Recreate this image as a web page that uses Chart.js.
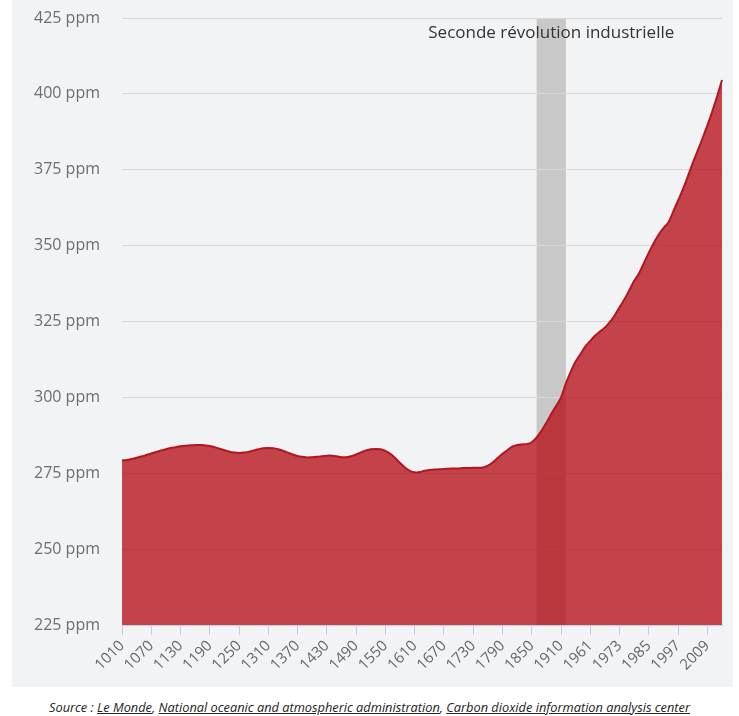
<!DOCTYPE html>
<html>
<head>
<meta charset="utf-8">
<script src="https://cdn.jsdelivr.net/npm/chart.js@4.4.0/dist/chart.umd.min.js"></script>
<style>
  html, body { margin: 0; padding: 0; background: #fff; }
  body { width: 739px; height: 716px; position: relative; overflow: hidden; font-family: "Open Sans", sans-serif; }
  #panel { position: absolute; left: 12px; top: 0; width: 721px; height: 687px; background: #f1f3f5; }
  #source {
    position: absolute; left: 0; top: 688px; width: 739px; height: 28px;
    text-align: center; font-style: italic; font-size: 12.8px; line-height: 38px; color: #222;
  }
  #source u { text-decoration: underline; }
</style>
</head>
<body>
<div id="panel"><canvas id="co2Chart" width="721" height="687"></canvas></div>
<div id="source">Source : <u>Le Monde</u>, <u>National oceanic and atmospheric administration</u>, <u>Carbon dioxide information analysis center</u></div>

<script>
/* ================= DATA ================= */

const years = [
  1010, 1020, 1030, 1040, 1050, 1060, 1070, 1080, 1090, 1100,
  1110, 1120, 1130, 1140, 1150, 1160, 1170, 1180, 1190, 1200,
  1210, 1220, 1230, 1240, 1250, 1260, 1270, 1280, 1290, 1300,
  1310, 1320, 1330, 1340, 1350, 1360, 1370, 1380, 1390, 1400,
  1410, 1420, 1430, 1440, 1450, 1460, 1470, 1480, 1490, 1500,
  1510, 1520, 1530, 1540, 1550, 1560, 1570, 1580, 1590, 1600,
  1610, 1620, 1630, 1640, 1650, 1660, 1670, 1680, 1690, 1700,
  1710, 1720, 1730, 1740, 1750, 1760, 1770, 1780, 1790, 1800,
  1810, 1820, 1830, 1840, 1850, 1860, 1870, 1880, 1890, 1900,
  1910, 1920, 1930, 1940, 1950, 1959, 1961, 1963, 1965, 1967,
  1969, 1971, 1973, 1975, 1977, 1979, 1981, 1983, 1985, 1987,
  1989, 1991, 1993, 1995, 1997, 1999, 2001, 2003, 2005, 2007,
  2009, 2011, 2013, 2015
];

const co2 = [
  279.2, 279.4, 279.7, 280.1, 280.5, 281.0, 281.5, 282.0, 282.5, 282.9,
  283.3, 283.6, 283.9, 284.1, 284.2, 284.3, 284.3, 284.2, 284.0, 283.6,
  283.1, 282.6, 282.1, 281.8, 281.7, 281.8, 282.1, 282.5, 282.9, 283.2,
  283.3, 283.2, 282.9, 282.4, 281.8, 281.2, 280.7, 280.4, 280.2, 280.3,
  280.4, 280.6, 280.8, 280.8, 280.6, 280.3, 280.3, 280.6, 281.2, 281.9,
  282.5, 282.9, 283.0, 282.9, 282.4, 281.4, 280.0, 278.4, 276.9, 275.8,
  275.3, 275.4, 275.8, 276.1, 276.2, 276.3, 276.4, 276.5, 276.6, 276.6,
  276.7, 276.7, 276.8, 276.8, 276.9, 277.5, 278.6, 280.0, 281.4, 282.6,
  283.8, 284.3, 284.5, 284.6, 285.2, 286.8, 289.0, 291.6, 294.5, 297.2,
  300.0, 304.6, 308.5, 311.8, 314.3, 316.8, 318.6, 320.4, 321.7, 323.0,
  324.8, 327.0, 329.7, 332.3, 335.3, 338.4, 340.9, 344.3, 347.7, 350.8,
  353.6, 355.8, 357.6, 361.2, 364.9, 368.6, 372.8, 377.2, 381.2, 385.3,
  389.6, 394.2, 399.2, 404.6
];

const tickYears = [
  1010, 1070, 1130, 1190, 1250, 1310, 1370, 1430, 1490, 1550, 1610,
  1670, 1730, 1790, 1850, 1910, 1961, 1973, 1985, 1997, 2009
];

const yTicks = [225, 250, 275, 300, 325, 350, 375, 400, 425];

const band = { from: 1860, to: 1920, label: "Seconde révolution industrielle" };

/* ================= PLOT BAND PLUGIN ================= */

const plotBand = {
  id: "plotBand",
  beforeDraw(chart) {
    const { ctx, chartArea, scales } = chart;
    const x1 = scales.x.getPixelForValue(years.indexOf(band.from));
    const x2 = scales.x.getPixelForValue(years.indexOf(band.to));
    ctx.save();
    ctx.fillStyle = "#c8c8c8";
    ctx.fillRect(x1, chartArea.top, x2 - x1, chartArea.bottom - chartArea.top);
    ctx.restore();
  },
  afterDraw(chart) {
    const { ctx, chartArea, scales } = chart;
    const x1 = scales.x.getPixelForValue(years.indexOf(band.from));
    const x2 = scales.x.getPixelForValue(years.indexOf(band.to));
    ctx.save();
    ctx.fillStyle = "#333";
    ctx.font = '17px "Open Sans"';
    ctx.textAlign = "center";
    ctx.textBaseline = "alphabetic";
    ctx.fillText(band.label, (x1 + x2) / 2, chartArea.top + 20);
    ctx.restore();
  }
};

/* ================= CHART ================= */

const isTick = i => tickYears.includes(years[i]);

new Chart(document.getElementById("co2Chart"), {
  type: "line",
  data: {
    labels: years,
    datasets: [{
      data: co2,
      fill: "start",
      backgroundColor: "rgba(180,4,12,0.74)",
      borderColor: "#b1171f",
      borderWidth: 2,
      pointRadius: 0,
      tension: 0.4
    }]
  },
  plugins: [plotBand],
  options: {
    responsive: false,
    animation: false,
    layout: { padding: { top: 18, right: 11, left: 0, bottom: 0 } },
    plugins: {
      legend: { display: false },
      tooltip: { enabled: false }
    },
    scales: {
      x: {
        afterFit: s => { s.height = 62; s.paddingTop = 0; s.paddingLeft = 0; s.paddingRight = 0; },
        border: { color: "#c0d0e0" },
        grid: {
          drawOnChartArea: false,
          tickLength: 10,
          tickColor: c => isTick(c.index) ? "#c0d0e0" : "rgba(0,0,0,0)"
        },
        ticks: {
          autoSkip: false,
          minRotation: 45,
          maxRotation: 45,
          padding: 2,
          color: "#666",
          font: { family: "Open Sans", size: 15 },
          callback: (v, i) => isTick(i) ? String(years[i]) : ""
        }
      },
      y: {
        min: 225,
        max: 425,
        afterFit: s => { s.width = 110; s.paddingTop = 0; s.paddingBottom = 0; },
        afterBuildTicks: s => { s.ticks = yTicks.map(v => ({ value: v })); },
        border: { display: false },
        grid: { color: "#d8d8d8", drawTicks: false },
        ticks: {
          padding: 22,
          color: "#6e6e6e",
          font: { family: "Open Sans", size: 16 },
          callback: v => v + " ppm"
        }
      }
    }
  }
});
</script>
</body>
</html>
